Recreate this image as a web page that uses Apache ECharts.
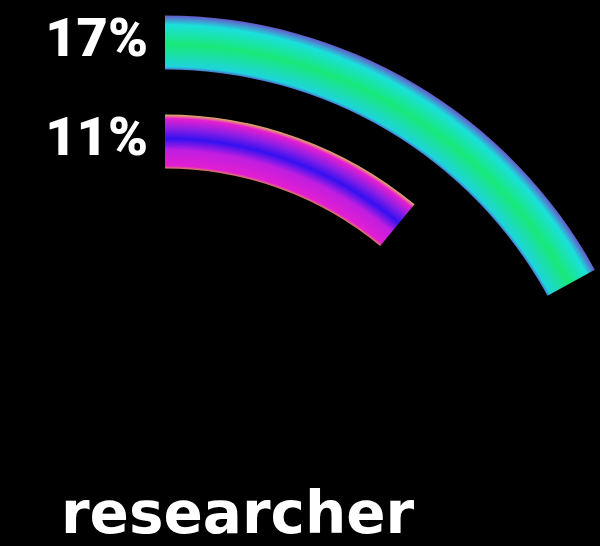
<!DOCTYPE html>
<html><head><meta charset="utf-8">
<script src="https://cdn.jsdelivr.net/npm/echarts@6/dist/echarts.min.js"></script>
<style>html,body{margin:0;padding:0;background:#000}#c{width:600px;height:546px}</style>
</head><body><div id="c"></div>
<script>
const categories = ['11%', '17%'];
const values = [11, 17];
const titleText = 'researcher';

const CX = 165, CY = 506, R = 491;
function grad(stops){ return {type:'radial', x:CX, y:CY, r:R, global:true, colorStops:stops}; }
const styles = [
  grad([
    {offset:0, color:'#000'},
    {offset:0.686, color:'#d89a40'},
    {offset:0.693, color:'#e21ed2'},
    {offset:0.725, color:'#c01ee0'},
    {offset:0.748, color:'#3410f0'},
    {offset:0.768, color:'#8a1ee6'},
    {offset:0.789, color:'#e61ed0'},
    {offset:0.797, color:'#e0b060'},
    {offset:1, color:'#000'}
  ]),
  grad([
    {offset:0, color:'#000'},
    {offset:0.886, color:'#6048c8'},
    {offset:0.895, color:'#1ed4dc'},
    {offset:0.94, color:'#18e878'},
    {offset:0.98, color:'#1ae0dc'},
    {offset:1.0, color:'#6a50c8'}
  ])
];

const chart = echarts.init(document.getElementById('c'), null, {renderer:'canvas'});
chart.setOption({
  backgroundColor:'#000',
  animation:false,
  title:{text:titleText, left:56, top:484, textStyle:{color:'#fff', fontFamily:'DejaVu Sans', fontWeight:'bold', fontSize:58}},
  polar:{center:[CX, CY], radius:[315, 513]},
  angleAxis:{type:'value', min:0, max:100, startAngle:90, clockwise:true, show:false},
  radiusAxis:{type:'category', data:categories, axisLine:{show:false}, axisTick:{show:false}, splitLine:{show:false},
    axisLabel:{interval:0, hideOverlap:false, color:'#fff', fontFamily:'Roboto', fontWeight:900, fontSize:54, margin:17, padding:[8,0,0,0]}},
  series:[{
    type:'bar', coordinateSystem:'polar', barWidth:54,
    data: values.map((v,i)=>({value:v, itemStyle:{color:styles[i]}}))
  }]
});
</script></body></html>
